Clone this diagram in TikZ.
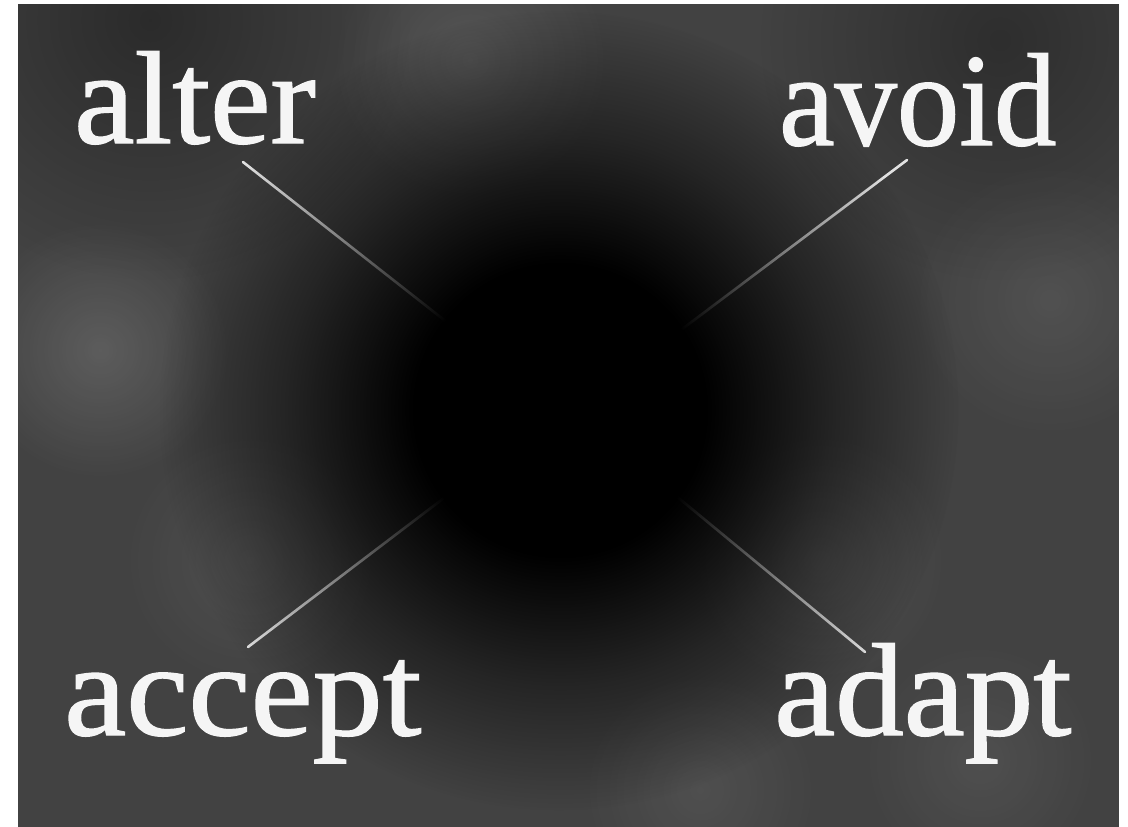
\documentclass[tikz,border=0pt]{standalone}
\usepackage{fontspec}
\setmainfont{Liberation Serif}
\newfontfamily\wordfont[FakeBold=1.1]{Liberation Serif}
\usetikzlibrary{fadings}
\definecolor{bgc}{RGB}{66,66,66}
\definecolor{txt}{RGB}{245,245,245}
\definecolor{ln}{RGB}{225,225,225}
\pgfdeclareradialshading{dkshade}{\pgfpointorigin}{color(0bp)=(white); color(9bp)=(white); color(17bp)=(white!45!black); color(25bp)=(black); color(50bp)=(black)}
\pgfdeclarefading{dkfade}{\pgfuseshading{dkshade}}
\pgfdeclareradialshading{softshade}{\pgfpointorigin}{color(0bp)=(white); color(25bp)=(black); color(50bp)=(black)}
\pgfdeclarefading{softfade}{\pgfuseshading{softshade}}
\tikzset{
  word/.style={anchor=base west, inner sep=0pt, text=txt, font=\wordfont\fontsize{132}{140}\selectfont},
  spoke/.style={draw=ln, line width=2.6pt, line cap=round},
  cloud/.style={fill=white, path fading=softfade, fill opacity=#1},
  shadowfade/.style={fill=black, path fading=softfade, fill opacity=#1},
}
\begin{document}
\begin{tikzpicture}[x=1pt,y=-1pt]
\useasboundingbox (0,0) rectangle (1128,827);
\fill[white] (0,0) rectangle (1128,827);
\fill[bgc] (18,4) rectangle (1119,827);
\begin{scope}
\clip (18,4) rectangle (1119,827);
\fill[cloud=0.14] (100,350) circle (130);
\fill[cloud=0.10] (470,60) circle (140);
\fill[cloud=0.08] (1050,300) circle (140);
\fill[cloud=0.08] (820,560) circle (130);
\fill[cloud=0.07] (250,560) circle (130);
\fill[cloud=0.07] (700,790) circle (120);
\fill[cloud=0.07] (980,760) circle (120);
\fill[shadowfade=0.35] (150,20) circle (260);
\fill[shadowfade=0.30] (1000,40) circle (240);
% spokes
\coordinate (a1) at (243,162); \coordinate (a2) at (490,356);
\coordinate (v1) at (907,160); \coordinate (v2) at (637,363);
\coordinate (c1) at (248,647); \coordinate (c2) at (490,463);
\coordinate (d1) at (865,652); \coordinate (d2) at (635,462);
\draw[spoke] (a1) -- (a2);
\draw[spoke] (v1) -- (v2);
\draw[spoke] (c1) -- (c2);
\draw[spoke] (d1) -- (d2);
\fill[black, path fading=dkfade] (560,410) circle (400);
\end{scope}
\node[word] (alter) at (74,143) {\scalebox{1.03}[1]{alter}};
\node[word] (avoid) at (779,145) {\scalebox{0.945}[1]{avoid}};
\node[word] (accept) at (64,735) {\scalebox{1.06}[1]{accept}};
\node[word] (adapt) at (774,735) {\scalebox{1.04}[1]{adapt}};
\end{tikzpicture}
\end{document}
